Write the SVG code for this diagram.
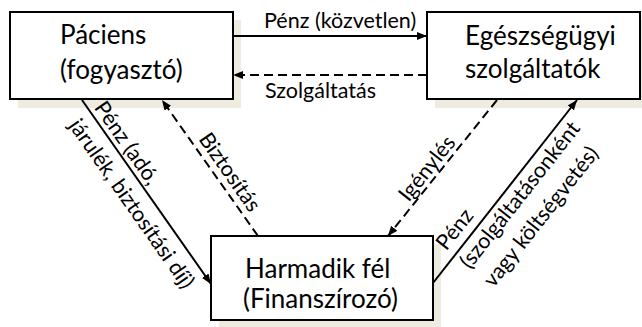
<svg xmlns="http://www.w3.org/2000/svg" width="642" height="327" viewBox="0 0 642 327">
<defs>
<style>
.sh{fill:#EEECE1}
.box{fill:#fff;stroke:#000;stroke-width:2}
.bt{font-family:Lato,"Liberation Sans",sans-serif;font-size:26px;fill:#000}
.lt{font-family:Lato,"Liberation Sans",sans-serif;font-size:21.5px;fill:#000}
.ln{stroke:#000;stroke-width:2;fill:none}
.ds{stroke-dasharray:9 5}
</style>
<marker id="ah" markerUnits="userSpaceOnUse" markerWidth="10" markerHeight="8" refX="10" refY="4" orient="auto">
<path d="M0,0 L10,4 L0,8 z" fill="#000"/>
</marker>
</defs>
<rect width="642" height="327" fill="#fff"/>
<g id="paciens">
<rect class="sh" x="18" y="20" width="223" height="88"/>
<rect class="box" x="10" y="12" width="223" height="87"/>
<text class="bt" x="60" y="44">Páciens</text>
<text class="bt" x="60" y="79">(fogyasztó)</text>
</g>
<g id="szolgaltatok">
<rect class="sh" x="435" y="20" width="215" height="88"/>
<rect class="box" x="427" y="12" width="213" height="87"/>
<text class="bt" x="465" y="45">Egészségügyi</text>
<text class="bt" x="465" y="78">szolgáltatók</text>
</g>
<g id="harmadik">
<rect class="sh" x="219" y="244" width="222" height="90"/>
<rect class="box" x="211" y="236" width="222" height="84"/>
<text class="bt" x="245" y="278">Harmadik fél</text>
<text class="bt" x="243" y="308">(Finanszírozó)</text>
</g>
<g id="connectors">
<line class="ln" x1="233" y1="36" x2="427" y2="36" marker-end="url(#ah)"/>
<line class="ln ds" x1="427" y1="75" x2="233" y2="75" marker-end="url(#ah)"/>
<line class="ln" x1="82" y1="100" x2="211" y2="284" marker-end="url(#ah)"/>
<line class="ln ds" x1="258" y1="236" x2="162" y2="100" marker-end="url(#ah)"/>
<line class="ln ds" x1="497" y1="100" x2="388" y2="236" marker-end="url(#ah)"/>
<line class="ln" x1="433" y1="283" x2="577" y2="100" marker-end="url(#ah)"/>
<text class="lt" x="264" y="28">Pénz (közvetlen)</text>
<text class="lt" x="265" y="98">Szolgáltatás</text>
<g transform="translate(82,100) rotate(55)">
<text class="lt" x="13" y="-5">Pénz (adó,</text>
<text class="lt" x="13" y="26">járulék, biztosítási díj)</text>
</g>
<g transform="translate(162,100) rotate(55)">
<text class="lt" x="98" y="-7" text-anchor="middle">Biztosítás</text>
</g>
<g transform="translate(388,237) rotate(-51.5)">
<text class="lt" x="78" y="-5" text-anchor="middle">Igénylés</text>
</g>
<g transform="translate(433,283) rotate(-51.8)">
<text class="lt" x="33" y="-9">Pénz</text>
<text class="lt" x="33" y="21">(szolgáltatásonként</text>
<text class="lt" x="33" y="51">vagy költségvetés)</text>
</g>
</g>
</svg>
